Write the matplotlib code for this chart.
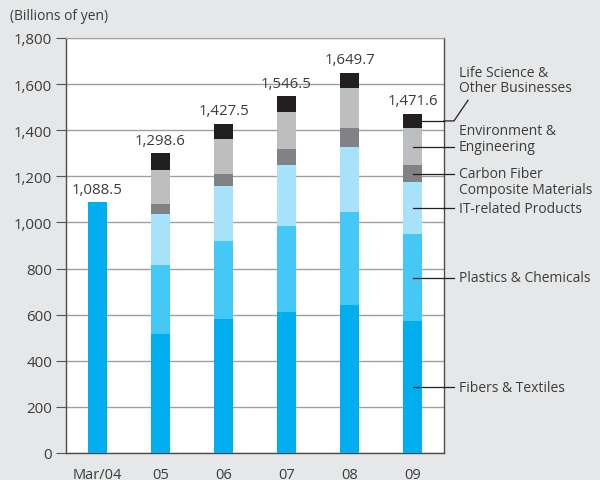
import matplotlib.pyplot as plt
import numpy as np

plt.rcParams['font.family'] = ['Open Sans', 'DejaVu Sans']

# Net sales by business segment, billions of yen
years = ['Mar/04', '05', '06', '07', '08', '09']
totals = [1088.5, 1298.6, 1427.5, 1546.5, 1649.7, 1471.6]
fibers = [1088.5, 516, 581, 611, 642, 572]
plastics = [0, 299, 338, 373, 403, 378]
it_related = [0, 221, 239, 265, 282, 225]
carbon_fiber = [0, 44, 52, 69, 82, 74]
environment = [0, 147, 152, 161, 174, 160]
life_science = [0, 72.6, 65.5, 67.5, 66.7, 62.6]

segments = [
    (fibers, '#00aeef', 'Fibers & Textiles'),
    (plastics, '#45c8f5', 'Plastics & Chemicals'),
    (it_related, '#a8e1fa', 'IT-related Products'),
    (carbon_fiber, '#808285', 'Carbon Fiber\nComposite Materials'),
    (environment, '#bcbec0', 'Environment &\nEngineering'),
    (life_science, '#231f20', 'Life Science &\nOther Businesses'),
]
# vertical nudge of each label relative to its leader line (data units)
label_shift = [0, 0, 0, -34, 34, 0]

bg = '#e6e7e8'
txt = '#3c3c3c'
line_c = '#231f20'

fig = plt.figure(figsize=(6.0, 4.81), dpi=100, facecolor=bg)
ax = fig.add_axes([66 / 600, 27 / 481, 378 / 600, 415 / 481])
ax.set_facecolor('white')

x = np.arange(len(years))
bottom = np.zeros(len(years))
mids = []
for vals, color, label in segments:
    vals = np.array(vals, dtype=float)
    ax.bar(x, vals, width=0.29, bottom=bottom, color=color, zorder=3)
    mids.append(bottom[-1] + vals[-1] / 2)
    bottom += vals

for xi, t in zip(x, totals):
    ax.text(xi, t + 24, f'{t:,.1f}', ha='center', va='bottom',
            fontsize=10.8, color=txt, zorder=4)

ax.set_xlim(-0.5, 5.5)
ax.set_ylim(0, 1800)
ax.set_yticks(np.arange(0, 1801, 200))
ax.set_yticklabels([f'{v:,}' for v in range(0, 1801, 200)])
ax.set_xticks(x)
ax.set_xticklabels(years)
ax.yaxis.grid(True, color='#9d9fa2', linewidth=1.0, zorder=0)
ax.tick_params(axis='y', direction='out', length=7, width=0.8,
               color='#555555', labelsize=10.8, labelcolor=txt, pad=3)
ax.tick_params(axis='x', length=0, labelsize=10.5, labelcolor=txt, pad=10)
for side in ['left', 'bottom', 'right']:
    ax.spines[side].set_color('#4d4d4d')
    ax.spines[side].set_linewidth(1.0)
ax.spines['top'].set_color('#9d9fa2')

fig.text(10 / 600, 1 - 17 / 481, '(Billions of yen)', fontsize=10,
         color=txt, va='center', ha='left')

# Leader lines from the last bar to the segment names on the right
trans = ax.get_yaxis_transform()
x_end = 1 + 10 / 378
x_lbl = 1 + 15 / 378
for (vals, color, label), ym, dy in zip(segments[:-1], mids[:-1], label_shift):
    ax.plot([5, 5.5], [ym, ym], color=line_c, lw=0.9, zorder=5, clip_on=False)
    ax.plot([1, x_end], [ym, ym], color=line_c, lw=0.9, zorder=5,
            clip_on=False, transform=trans)
    ax.text(x_lbl, ym + dy, label, transform=trans, ha='left', va='center',
            fontsize=10, color=txt, linespacing=1.05)

# Life Science leader has a kink up to its label
ym = mids[-1]
ax.plot([5, 5.5], [ym, ym], color=line_c, lw=0.9, zorder=5, clip_on=False)
ax.plot([1, x_end, 1 + 24 / 378], [ym, ym, 1530], color=line_c, lw=0.9,
        zorder=5, clip_on=False, transform=trans)
ax.text(x_lbl, 1617, segments[-1][2], transform=trans, ha='left',
        va='center', fontsize=10, color=txt, linespacing=1.05)

fig.savefig('out.png', dpi=100, facecolor=bg)
